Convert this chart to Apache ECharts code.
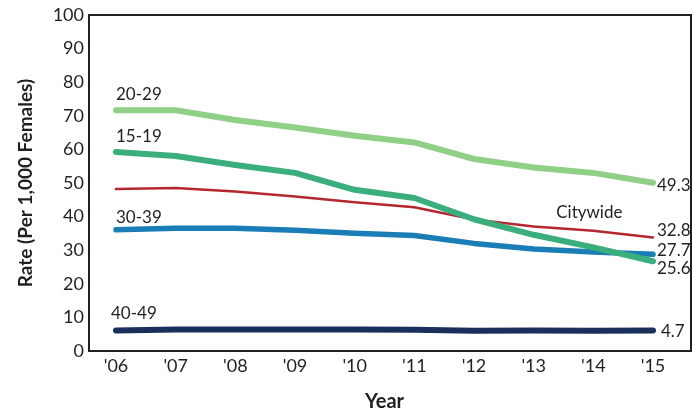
<!DOCTYPE html>
<html>
<head>
<meta charset="utf-8">
<script src="https://cdn.jsdelivr.net/npm/echarts@6/dist/echarts.min.js"></script>
<style>
  html, body { margin: 0; padding: 0; background: #fff; }
  #chart { width: 693px; height: 417px; }
</style>
</head>
<body>
<div id="chart"></div>
<script>
var years = ["'06", "'07", "'08", "'09", "'10", "'11", "'12", "'13", "'14", "'15"];
var age2029 = [71.2, 71.2, 68.3, 66.0, 63.5, 61.5, 56.5, 53.9, 52.3, 49.3];
var age1519 = [58.6, 57.4, 54.7, 52.3, 47.2, 44.7, 38.3, 33.6, 29.8, 25.6];
var citywide = [47.4, 47.7, 46.7, 45.2, 43.4, 41.9, 38.2, 36.1, 34.8, 32.8];
var age3039 = [35.1, 35.6, 35.6, 35.0, 34.1, 33.4, 31.0, 29.3, 28.4, 27.7];
var age4049 = [4.7, 5.0, 5.0, 5.0, 5.0, 4.9, 4.6, 4.7, 4.6, 4.7];

var chart = echarts.init(document.getElementById('chart'));
var font = 'Lato';
var txt = '#231f20';

// label on the first point (series name) and optional extra label
function mkData(vals, name, nameOpt, extra) {
    return vals.map(function (v, i) {
        var d = {value: v};
        if (i === 0 && name) {
            d.label = {
                show: true, formatter: name, position: 'top', align: 'left',
                distance: nameOpt.dist, offset: [nameOpt.dx, 0],
                fontFamily: font, fontSize: 17, color: txt
            };
        }
        if (extra && extra.idx === i) {
            d.label = {
                show: true, formatter: extra.text, position: 'top',
                distance: extra.dist, offset: [extra.dx, 0],
                fontFamily: font, fontSize: 17, color: txt
            };
        }
        return d;
    });
}

function mkSeries(vals, color, width, name, nameOpt, endDy, endDx, extra) {
    return {
        type: 'line',
        xAxisIndex: 1,
        yAxisIndex: 1,
        data: mkData(vals, name, nameOpt, extra),
        symbol: 'circle',
        symbolSize: 0,
        showSymbol: true,
        itemStyle: {color: color},
        lineStyle: {color: color, width: width, cap: 'round', join: 'round'},
        endLabel: {
            show: true,
            formatter: function (p) { return p.value.toFixed(1); },
            distance: endDx,
            offset: [0, endDy],
            fontFamily: font, fontSize: 17, color: txt
        },
        z: 3
    };
}

var option = {
    animation: false,
    grid: [
        {left: 89, right: 2, top: 15, bottom: 66, show: true, borderColor: '#231f20', borderWidth: 2, backgroundColor: 'transparent'},
        {left: 116, right: 40, top: 15, bottom: 66}
    ],
    xAxis: [
        {gridIndex: 0, type: 'category', data: years, show: false},
        {
            gridIndex: 1, type: 'category', data: years, boundaryGap: false,
            axisLine: {show: false}, axisTick: {show: false},
            axisLabel: {fontFamily: font, fontSize: 18, color: txt, margin: 11},
            name: 'Year', nameLocation: 'middle', nameGap: 46,
            nameTextStyle: {fontFamily: font, fontSize: 20, fontWeight: 'bold', color: txt}
        }
    ],
    yAxis: [
        {
            gridIndex: 0, type: 'value', min: 0, max: 100, interval: 10,
            axisLine: {show: false}, axisTick: {show: false}, splitLine: {show: false},
            axisLabel: {fontFamily: font, fontSize: 18, color: txt, margin: 5},
            name: 'Rate (Per 1,000 Females)', nameLocation: 'middle', nameGap: 54,
            nameTextStyle: {fontFamily: font, fontSize: 19, fontWeight: 'bold', color: txt}
        },
        {gridIndex: 1, type: 'value', min: 0, max: 100, show: false}
    ],
    series: [
        mkSeries(citywide, '#b3282e', 2.5, null, null, -7, 4,
            {idx: 8, text: 'Citywide', dist: 10, dx: -4}),
        mkSeries(age4049, '#1b2f5c', 6, '40-49', {dist: 8, dx: -5}, 1, 8),
        mkSeries(age3039, '#1b7db5', 5.5, '30-39', {dist: 4, dx: 0}, -4, 4),
        mkSeries(age1519, '#3aaf7d', 6, '15-19', {dist: 7, dx: 0}, 7, 4),
        mkSeries(age2029, '#8fcf86', 6, '20-29', {dist: 7, dx: 0}, 3, 4)
    ]
};

chart.setOption(option);
</script>
</body>
</html>
